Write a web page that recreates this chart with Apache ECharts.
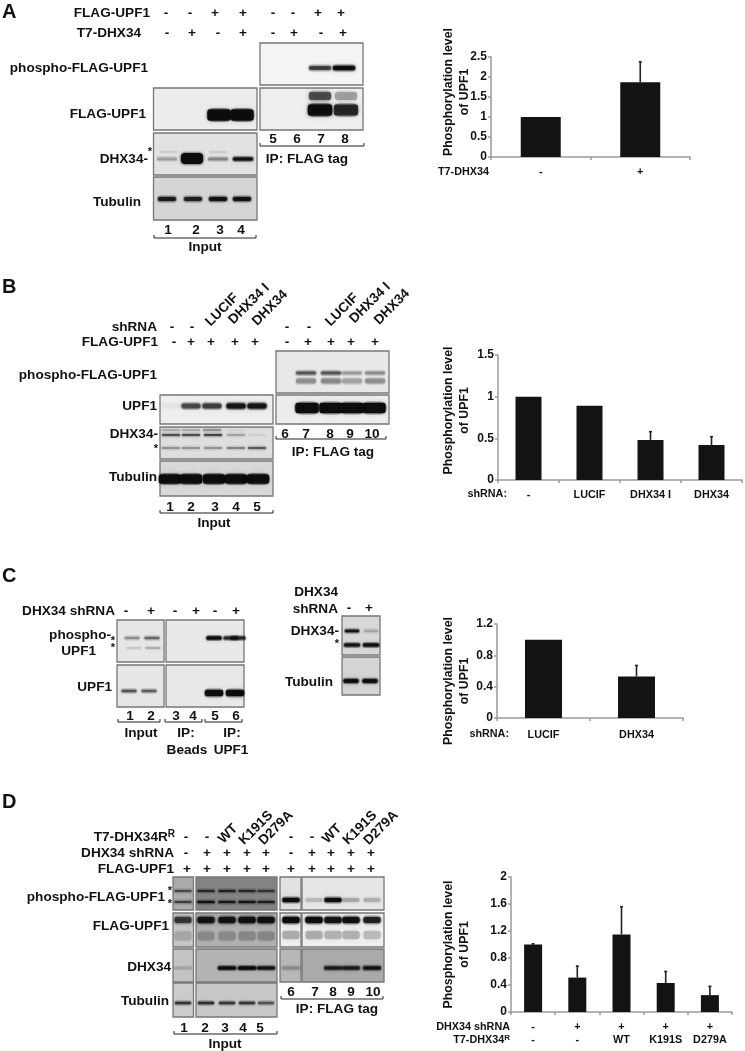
<!DOCTYPE html>
<html><head><meta charset="utf-8">
<script src="https://cdn.jsdelivr.net/npm/echarts@6/dist/echarts.min.js"></script>
<style>html,body{margin:0;padding:0;background:#fff}#c{width:745px;height:1051px}</style>
</head><body><div id="c"></div>
<script>
// ---- chart values ----
const catsA = ['-', '+'];
const valsA = [1, 1.87];
const errA = [null, 2.38];
const catsB = ['-', 'LUCIF', 'DHX34 I', 'DHX34'];
const valsB = [1, 0.89, 0.48, 0.42];
const errB = [null, null, 0.58, 0.52];
const catsC = ['LUCIF', 'DHX34'];
const valsC = [1, 0.53];
const errC = [null, 0.67];
const catsD = ['-\n-', '+\n-', '+\nWT', '+\nK191S', '+\nD279A'];
const valsD = [1, 0.51, 1.15, 0.43, 0.25];
const errD = [1.01, 0.68, 1.56, 0.6, 0.38];
const yTitle = 'Phosphorylation level\nof UPF1';

// ---- blot lane intensities (0..1) ----
const aPhospho = [0.6, 1];
const aIpFlag = [1, 0.72], aIpFlagUp = [0.55, 0.25];
const aFlag = [1, 0.98];
const aDhx = [0.22, 1, 0.3, 0.9], aDhxUp = [0.1, 0, 0.1, 0];
const aTub = [0.8, 0.75, 0.88, 0.88];
const bPhosphoHi = [0.5, 0.5, 0.25, 0.3], bPhosphoLo = [0.28, 0.3, 0.22, 0.28];
const bIp = [1, 1, 1, 1];
const bUpf = [0.03, 0.55, 0.6, 0.85, 0.85];
const bDhxUp = [0.2, 0.2, 0.3, 0.05, 0];
const bDhx = [0.5, 0.5, 0.55, 0.2, 0.05];
const bStar = [0.25, 0.25, 0.25, 0.3, 0.45];
const bTub = [1, 1, 1, 1, 1];
const cP1 = [0.28, 0.42], cP2 = [0.12, 0.22];
const cPip = [1, 0.7, 0.7];
const cU = [0.5, 0.45];
const cUip = [1, 1];
const cDx = [0.85, 0.18], cStar = [0.85, 0.95], cTub = [1, 1];
const dP1 = [0.45, 0.6, 0.65, 0.6, 0.5], dP2 = [0.5, 0.85, 0.75, 0.8, 0.7];
const dPip = [1, 0.15, 0.95, 0.2, 0.18];
const dF = [0.6, 0.85, 0.85, 0.9, 0.9];
const dFip = [0.95, 0.95, 0.85, 0.9, 0.75];
const dX = [0.12, 0, 0.95, 1, 0.85];
const dXip = [0.18, 0, 0.7, 0.7, 0.8];
const dT = [0.6, 0.65, 0.6, 0.6, 0.45];

// ---- text lists ----
const aRow1 = ['-', '-', '+', '+', '-', '-', '+', '+'];
const aRow2 = ['-', '+', '-', '+', '-', '+', '-', '+'];
const bRow1 = ['-', '-', '-', '-'];
const bRow2 = ['-', '+', '+', '+', '+', '-', '+', '+', '+', '+'];
const cRow = ['-', '+', '-', '+', '-', '+'];
const dRow1 = ['-', '-', '-', '-'];
const dRow2 = ['-', '+', '+', '+', '+', '-', '+', '+', '+', '+'];
const dRow3 = ['+', '+', '+', '+', '+', '+', '+', '+', '+', '+'];
const shLabels = ['LUCIF', 'DHX34 I', 'DHX34'];
const rescueLabels = ['WT', 'K191S', 'D279A'];

// ---- drawing helpers ----
const FONT = '"Liberation Sans", Arial, sans-serif';
const els = [];
function T(text, x, y, o) {
  o = o || {};
  els.push({ type: 'text', x, y, rotation: o.rot || 0, z: 10, silent: true,
    style: { text, fontFamily: FONT, fontWeight: 'bold', fontSize: o.size || 13.6, fill: '#111',
      align: o.align || 'center', verticalAlign: 'middle', rich: o.rich } });
}
function R(text, x, y, o) { T(text, x, y, Object.assign({ align: 'right' }, o || {})); }
function row(list, xs, y) { list.forEach((s, i) => T(s, xs[i], y)); }
function panel(x, y, w, h, fill) {
  els.push({ type: 'rect', z: 1, silent: true, shape: { x, y, width: w, height: h },
    style: { fill, stroke: '#777', lineWidth: 1.3 } });
}
function bands(vals, xs, y, w, h, blur) {
  const b = blur === undefined ? 3 : blur;
  vals.forEach((v, i) => {
    if (!v) return;
    const soft = 'rgba(12,12,12,' + (v * 0.35) + ')';
    const c = 'rgba(12,12,12,' + v + ')';
    els.push({ type: 'rect', z: 2, silent: true,
      shape: { x: xs[i] - w / 2 - 1, y: y - h / 2 - 1.5, width: w + 2, height: h + 3, r: (h + 3) / 2 },
      style: { fill: soft, shadowBlur: b + 3, shadowColor: soft } });
    els.push({ type: 'rect', z: 2, silent: true,
      shape: { x: xs[i] - w / 2, y: y - h / 2, width: w, height: h, r: Math.min(h / 2, 2) },
      style: { fill: c, shadowBlur: b, shadowColor: c } });
  });
}
function bracket(x1, x2, y) {
  els.push({ type: 'polyline', z: 3, silent: true,
    shape: { points: [[x1, y - 3], [x1, y], [x2, y], [x2, y - 3]] },
    style: { fill: 'none', stroke: '#222', lineWidth: 1 } });
}

// ---- Panel A ----
T('A', 2, 12, { align: 'left', size: 20 });
R('FLAG-UPF1', 150, 13); R('T7-DHX34', 141, 33);
row(aRow1, [166, 190, 215, 243, 273, 293, 318, 341], 13);
row(aRow2, [167, 192, 218, 243, 273, 294, 321, 343], 33);
panel(260, 43, 103, 42, '#f5f5f5');
panel(260, 88, 103, 42, '#eeeeee');
panel(153.5, 88, 103.5, 42, '#ececec');
panel(153.5, 133, 103.5, 42, '#e2e2e2');
panel(153.5, 177, 103.5, 43, '#d6d6d6');
bands(aPhospho, [320, 344], 68, 22, 4, 3);
bands(aIpFlagUp, [320, 346], 96, 22, 8, 4);
bands(aIpFlag, [320, 346], 110, 24, 11, 3);
bands(aFlag, [219, 242], 115, 23, 11, 2);
bands(aDhxUp, [168, 192, 218, 243], 152, 17, 1, 2);
bands(aDhx, [167, 192, 218, 243], 159, 20, 3, 2);
els.push({ type: 'rect', z: 2, silent: true, shape: { x: 181, y: 153, width: 22, height: 11, r: 4 },
  style: { fill: '#0c0c0c', shadowBlur: 3, shadowColor: '#0c0c0c' } });
bands(aTub, [167, 193, 218, 242], 199, 18, 4, 2);
R('phospho-FLAG-UPF1', 148, 68); R('FLAG-UPF1', 146, 114); R('DHX34-', 148, 159);
T('*', 150, 152, { size: 11 }); R('Tubulin', 141, 202);
row(['5', '6', '7', '8'], [273, 297, 321, 345], 139);
bracket(260, 364, 146);
T('IP: FLAG tag', 307, 159);
row(['1', '2', '3', '4'], [168, 196, 220, 241], 230);
bracket(154, 256, 238);
T('Input', 205, 247);

// ---- Panel B ----
T('B', 2, 287, { align: 'left', size: 20 });
R('shRNA', 157, 327); R('FLAG-UPF1', 158, 342);
row(bRow1, [172, 192, 287, 309], 327);
row(bRow2, [174, 191, 211, 235, 255, 287, 308, 331, 351, 375], 342);
[[222, 310], [249, 304], [270, 308], [342, 310], [370, 303], [392, 307]].forEach((p, i) =>
  T(shLabels[i % 3], p[0], p[1], { rot: Math.PI / 4 }));
panel(276, 351, 113, 42, '#e8e8e8');
panel(276, 395, 113, 29, '#ededed');
panel(160, 395, 113, 29, '#eeeeee');
panel(160, 427, 113, 32, '#dedede');
panel(160, 461, 113, 35, '#d8d8d8');
bands(bPhosphoHi, [306, 331, 352, 375], 373, 20, 3, 3);
bands(bPhosphoLo, [306, 331, 352, 375], 381, 20, 5, 3);
bands(bIp, [307, 331, 352, 374], 408, 23, 10, 2);
bands(bUpf, [171, 191, 212, 236, 257], 406, 19, 5, 3);
bands(bDhxUp, [171, 191, 212, 236, 257], 430, 18, 1.5, 1);
bands(bDhx, [171, 191, 213, 236, 257], 435, 18, 2, 1);
bands(bStar, [171, 191, 213, 236, 257], 448, 18, 2, 1);
bands(bTub, [170, 191, 214, 236, 258], 479, 22, 9, 2);
R('phospho-FLAG-UPF1', 157, 375); R('UPF1', 157, 406); R('DHX34-', 158, 434);
T('*', 156, 449, { size: 11 }); R('Tubulin', 157, 477);
row(['1', '2', '3', '4', '5'], [170, 191, 215, 236, 257], 507);
bracket(160, 273, 513);
T('Input', 214, 523);
row(['6', '7', '8', '9', '10'], [285, 306, 330, 350, 372], 434);
bracket(276, 386, 439);
T('IP: FLAG tag', 333, 452);

// ---- Panel C ----
T('C', 2, 576, { align: 'left', size: 20 });
R('DHX34 shRNA', 115, 611);
row(cRow, [126, 151, 175, 196, 215, 236], 611);
panel(117, 620, 47, 42, '#e6e6e6');
panel(166, 620, 78, 42, '#e9e9e9');
panel(117, 665, 47, 42, '#e6e6e6');
panel(166, 665, 78, 42, '#e8e8e8');
bands(cP1, [132, 152], 638, 15, 2.5, 2);
bands(cP2, [134, 153], 648, 15, 1.5, 1.5);
bands(cPip, [214, 231, 238], 638, 15, 3, 1.5);
bands(cU, [129, 149], 691, 15, 2.5, 2);
bands(cUip, [214, 235], 693, 18, 6, 1.5);
R('phospho-', 111, 635); R('UPF1', 96, 651);
T('*', 113, 641, { size: 11 }); T('*', 113, 648, { size: 11 });
R('UPF1', 112, 687);
row(['1', '2', '3', '4', '5', '6'], [130, 151, 176, 193, 215, 236], 716);
bracket(118, 160, 722); bracket(165, 202, 722); bracket(205, 242, 722);
T('Input', 141, 733); T('IP:', 186, 733); T('IP:', 232, 733);
T('Beads', 187, 750); T('UPF1', 231, 750);
R('DHX34', 338, 592); R('shRNA', 338, 609);
row(['-', '+'], [349, 369], 608);
panel(342, 616, 38, 39, '#d8d8d8');
panel(342, 657, 38, 38, '#d4d4d4');
bands(cDx, [352, 371], 631, 14, 2.5, 1.5);
bands(cStar, [352, 371], 645, 16, 3, 1.5);
bands(cTub, [351, 370], 681, 15, 3.5, 1.5);
R('DHX34-', 339, 631); T('*', 337, 644, { size: 11 }); R('Tubulin', 333, 682);

// ---- Panel D ----
T('D', 2, 802, { align: 'left', size: 20 });
T('T7-DHX34R{s|R}', 175, 837, { align: 'right',
  rich: { s: { fontFamily: FONT, fontWeight: 'bold', fontSize: 10, verticalAlign: 'top', padding: [0, 0, 6, 0], fill: '#111' } } });
R('DHX34 shRNA', 174, 853); R('FLAG-UPF1', 174, 869);
row(dRow1, [186, 207, 291, 312], 837);
row(dRow2, [186, 207, 227, 247, 266, 291, 312, 331, 351, 371], 853);
row(dRow3, [187, 207, 227, 247, 266, 291, 312, 331, 351, 371], 869);
[[228, 834], [256, 828], [276, 828], [332, 834], [360, 828], [381, 828]].forEach((p, i) =>
  T(rescueLabels[i % 3], p[0], p[1], { rot: Math.PI / 4 }));
const dxL = [183, 206, 227, 247, 266], dxR = [291, 314, 333, 351, 372];
panel(173, 877, 20.5, 33, '#ababab'); panel(196, 877, 81, 33, '#848484');
panel(280, 877, 21, 33, '#e2e2e2'); panel(302, 877, 82, 33, '#e6e6e6');
panel(173, 913, 20.5, 34, '#c6c6c6'); panel(196, 913, 81, 34, '#b0b0b0');
panel(280, 913, 21, 34, '#eeeeee'); panel(302, 913, 82, 34, '#eeeeee');
panel(173, 949, 20.5, 33, '#c4c4c4'); panel(196, 949, 81, 33, '#b4b4b4');
panel(280, 949, 21, 33, '#b8b8b8'); panel(302, 949, 82, 33, '#aaaaaa');
panel(173, 983, 20.5, 34, '#cccccc'); panel(196, 983, 81, 34, '#c8c8c8');
bands(dP1, dxL, 891, 17, 2, 1.5);
bands(dP2, dxL, 902, 17, 2, 1.5);
bands(dPip, dxR, 900, 17, 4, 2);
bands(dF, dxL, 920, 17, 6, 3);
bands(dF.map(v => v * 0.2), dxL, 936, 17, 9, 4);
bands(dFip, dxR, 920, 17, 6, 2.5);
bands(dFip.map(v => v * 0.22), dxR, 935, 17, 8, 4);
bands(dX, dxL, 968, 18, 3, 1.5);
bands(dXip, dxR, 968, 18, 3.5, 1.5);
bands(dT, dxL, 1003, 16, 2.5, 1.5);
R('phospho-FLAG-UPF1', 165, 897); T('*', 170, 891, { size: 11 }); T('*', 170, 904, { size: 11 });
R('FLAG-UPF1', 169, 926); R('DHX34', 171, 967); R('Tubulin', 169, 1001);
row(['1', '2', '3', '4', '5'], [184, 205, 225, 243, 260], 1028);
bracket(174, 277, 1034);
T('Input', 225, 1044);
row(['6', '7', '8', '9', '10'], [291, 315, 333, 351, 373], 992);
bracket(281, 383, 999);
T('IP: FLAG tag', 337, 1009);

// ---- row captions beside the bar charts ----
const sm = { size: 10.8 };
R('T7-DHX34', 489, 172, sm);
R('shRNA:', 507, 494, sm);
R('shRNA:', 509, 734, sm);
R('DHX34 shRNA', 510, 1027, sm);
T('T7-DHX34{s|R}', 510, 1040, { align: 'right', size: 10.8,
  rich: { s: { fontFamily: FONT, fontWeight: 'bold', fontSize: 8, verticalAlign: 'top', padding: [0, 0, 5, 0], fill: '#111' } } });

// ---- bar charts ----
const GRAY = '#9a9a9a';
const charts = [
  { cats: catsA, vals: valsA, err: errA, max: 2.5, step: 0.5, bw: 40, g: { left: 491, top: 57, width: 199, height: 100 }, gap: 18, pad: [0, 0, 0, 30], margin: 9, lh: 13 },
  { cats: catsB, vals: valsB, err: errB, max: 1.5, step: 0.5, bw: 26, g: { left: 498, top: 355, width: 244, height: 125 }, gap: 25, pad: [0, 0, 0, 14], margin: 9, lh: 13 },
  { cats: catsC, vals: valsC, err: errC, max: 1.2, step: 0.4, bw: 37, g: { left: 497, top: 624, width: 186, height: 94 }, gap: 24, pad: [0, 20, 0, 0], margin: 11, lh: 13 },
  { cats: catsD, vals: valsD, err: errD, max: 2, step: 0.4, bw: 18, g: { left: 511, top: 877, width: 221, height: 135 }, gap: 38, pad: [0, 0, 0, 0], margin: 9, lh: 13 }
];
const grid = [], xAxis = [], yAxis = [], series = [];
charts.forEach((c, i) => {
  grid.push(Object.assign({ containLabel: false }, c.g));
  xAxis.push({ type: 'category', gridIndex: i, data: c.cats,
    axisLine: { show: true, lineStyle: { color: GRAY, width: 1.5 } },
    axisTick: { show: true, length: 3, lineStyle: { color: GRAY, width: 1.5 } },
    axisLabel: { interval: 0, color: '#111', fontFamily: FONT, fontWeight: 'bold', fontSize: 10.8, margin: c.margin, lineHeight: c.lh } });
  yAxis.push({ type: 'value', gridIndex: i, min: 0, max: c.max, interval: c.step,
    name: yTitle, nameLocation: 'middle', nameRotate: 90, nameGap: c.gap, nameMoveOverlap: false,
    nameTextStyle: { color: '#111', fontFamily: FONT, fontWeight: 'bold', fontSize: 12.3, lineHeight: 16, padding: c.pad },
    axisLine: { show: true, lineStyle: { color: GRAY, width: 1.5 } },
    axisTick: { show: true, length: 3, lineStyle: { color: GRAY, width: 1.5 } },
    splitLine: { show: false },
    axisLabel: { color: '#111', fontFamily: FONT, fontWeight: 'bold', fontSize: 12, margin: 4 } });
  series.push({ type: 'bar', xAxisIndex: i, yAxisIndex: i, data: c.vals, barWidth: c.bw, silent: true,
    itemStyle: { color: '#131313' } });
  series.push({ type: 'custom', xAxisIndex: i, yAxisIndex: i, silent: true, z: 1,
    data: c.err.map((e, k) => [k, c.vals[k], e]),
    encode: { x: 0, y: 2 },
    renderItem: (params, api) => {
      if (api.value(2) === null || isNaN(api.value(2))) return;
      const a = api.coord([api.value(0), api.value(1)]);
      const b = api.coord([api.value(0), api.value(2)]);
      const st = { stroke: '#222', lineWidth: 1.6 };
      return { type: 'group', children: [
        { type: 'line', shape: { x1: a[0], y1: a[1], x2: b[0], y2: b[1] }, style: st },
        { type: 'line', shape: { x1: b[0] - 1.5, y1: b[1], x2: b[0] + 1.5, y2: b[1] }, style: st }
      ] };
    } });
});

const chart = echarts.init(document.getElementById('c'), null, { renderer: 'canvas' });
chart.setOption({ animation: false, backgroundColor: '#fff', tooltip: { show: false },
  grid, xAxis, yAxis, series, graphic: { elements: els } });
</script></body></html>
